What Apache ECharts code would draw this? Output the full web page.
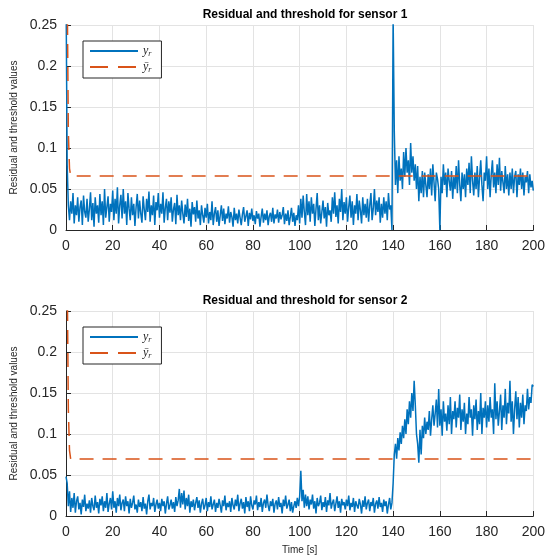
<!DOCTYPE html>
<html>
<head>
<meta charset="utf-8">
<script src="https://cdn.jsdelivr.net/npm/echarts@6/dist/echarts.min.js"></script>
<style>html,body{margin:0;padding:0;background:#fff}#c{width:548px;height:559px}</style>
</head>
<body>
<div id="c"></div>
<script>
// sample spacing of the residual records (seconds)
const dt = 0.5;
const xTicks = [0, 20, 40, 60, 80, 100, 120, 140, 160, 180, 200];
const yTicks = [0, 0.05, 0.1, 0.15, 0.2, 0.25];
const titles = ['Residual and threshold for sensor 1', 'Residual and threshold for sensor 2'];
const seriesNames = ['yr', 'ybar'];

// Sensor 1 residual y_r (t = 0, 0.5, ..., 200 s)
const resid1 = [
0.30,0.08,0.03,0.012,0.035,0.02,0.045,0.008,0.03,0.018,
0.04,0.01,0.028,0.036,0.006,0.042,0.022,0.015,0.038,0.01,
0.025,0.046,0.012,0.033,0.004,0.04,0.02,0.03,0.009,0.044,
0.018,0.035,0.006,0.05,0.015,0.028,0.041,0.01,0.032,0.022,
0.048,0.012,0.038,0.02,0.052,0.008,0.03,0.043,0.014,0.05,
0.02,0.035,0.006,0.045,0.026,0.012,0.04,0.018,0.032,0.005,
0.028,0.044,0.014,0.036,0.02,0.009,0.041,0.025,0.012,0.038,
0.022,0.047,0.01,0.03,0.018,0.042,0.006,0.034,0.024,0.045,
0.015,0.032,0.02,0.046,0.009,0.027,0.038,0.012,0.035,0.021,
0.04,0.01,0.025,0.033,0.007,0.043,0.018,0.03,0.012,0.036,
0.02,0.008,0.031,0.016,0.038,0.011,0.026,0.004,0.034,0.019,
0.028,0.01,0.036,0.014,0.024,0.006,0.03,0.018,0.009,0.027,
0.015,0.032,0.008,0.022,0.012,0.035,0.006,0.02,0.028,0.01,
0.024,0.005,0.018,0.03,0.011,0.026,0.007,0.02,0.014,0.029,
0.009,0.022,0.016,0.004,0.027,0.012,0.02,0.008,0.025,0.015,
0.006,0.019,0.028,0.01,0.017,0.024,0.005,0.021,0.013,0.026,
0.011,0.018,0.007,0.023,0.014,0.02,0.004,0.016,0.026,0.009,
0.02,0.012,0.024,0.006,0.017,0.021,0.01,0.027,0.008,0.019,
0.014,0.025,0.009,0.022,0.013,0.018,0.028,0.007,0.02,0.011,
0.024,0.006,0.016,0.027,0.01,0.021,0.005,0.018,0.012,0.03,
0.008,0.038,0.015,0.042,0.022,0.006,0.044,0.018,0.035,0.01,
0.04,0.02,0.032,0.005,0.026,0.045,0.012,0.03,0.008,0.022,
0.036,0.014,0.028,0.004,0.033,0.018,0.024,0.01,0.04,0.02,
0.046,0.016,0.03,0.008,0.038,0.022,0.05,0.012,0.034,0.02,
0.04,0.01,0.028,0.042,0.015,0.035,0.006,0.03,0.02,0.044,
0.012,0.036,0.024,0.008,0.04,0.018,0.032,0.015,0.038,0.01,
0.03,0.045,0.012,0.026,0.05,0.018,0.036,0.022,0.04,0.009,
0.032,0.015,0.04,0.02,0.035,0.012,0.045,0.025,0.03,0.0,
0.26,0.12,0.055,0.085,0.045,0.09,0.06,0.075,0.05,0.095,
0.065,0.1,0.07,0.085,0.055,0.106,0.07,0.09,0.06,0.08,
0.05,0.078,0.035,0.065,0.045,0.072,0.04,0.07,0.055,0.04,
0.068,0.05,0.075,0.042,0.08,0.058,0.035,0.07,0.062,0.05,
0.0,0.065,0.045,0.08,0.055,0.07,0.04,0.075,0.06,0.048,
0.072,0.038,0.065,0.05,0.078,0.045,0.085,0.055,0.035,0.07,
0.05,0.068,0.04,0.075,0.055,0.082,0.045,0.09,0.06,0.042,
0.07,0.05,0.078,0.04,0.065,0.085,0.055,0.035,0.07,0.06,
0.09,0.05,0.075,0.04,0.068,0.085,0.052,0.07,0.045,0.08,
0.055,0.088,0.048,0.072,0.058,0.045,0.078,0.05,0.068,0.042,
0.07,0.05,0.075,0.045,0.065,0.072,0.04,0.068,0.055,0.075,
0.05,0.07,0.042,0.065,0.058,0.072,0.045,0.068,0.052,0.06,
0.048
];

// Sensor 2 residual y_r (t = 0, 0.5, ..., 200 s)
const resid2 = [
0.048,0.04,0.012,0.03,0.005,0.022,0.01,0.028,0.004,0.018,
0.024,0.008,0.016,0.002,0.02,0.011,0.026,0.006,0.015,0.009,
0.019,0.004,0.022,0.012,0.007,0.025,0.01,0.017,0.003,0.021,
0.013,0.024,0.006,0.018,0.01,0.028,0.005,0.015,0.022,0.008,
0.03,0.01,0.018,0.004,0.022,0.012,0.026,0.007,0.016,0.02,
0.006,0.024,0.012,0.018,0.003,0.021,0.01,0.016,0.025,0.008,
0.014,0.004,0.02,0.011,0.017,0.006,0.023,0.009,0.015,0.002,
0.018,0.026,0.008,0.016,0.012,0.022,0.005,0.014,0.02,0.009,
0.016,0.006,0.021,0.012,0.018,0.003,0.015,0.024,0.008,0.013,
0.02,0.009,0.017,0.005,0.023,0.012,0.019,0.033,0.01,0.028,
0.014,0.031,0.008,0.022,0.012,0.026,0.004,0.018,0.011,0.02,
0.007,0.016,0.023,0.01,0.019,0.004,0.015,0.021,0.008,0.013,
0.022,0.006,0.017,0.011,0.024,0.008,0.014,0.02,0.005,0.016,
0.01,0.021,0.013,0.004,0.019,0.012,0.025,0.007,0.016,0.011,
0.018,0.005,0.022,0.013,0.008,0.02,0.012,0.026,0.006,0.015,
0.021,0.009,0.017,0.003,0.023,0.011,0.018,0.006,0.024,0.013,
0.008,0.019,0.014,0.025,0.007,0.017,0.011,0.022,0.005,0.016,
0.02,0.01,0.026,0.013,0.006,0.018,0.012,0.021,0.004,0.015,
0.019,0.008,0.023,0.011,0.016,0.003,0.02,0.012,0.025,0.009,
0.014,0.02,0.006,0.017,0.004,0.012,0.018,0.01,0.022,0.012,
0.024,0.055,0.018,0.032,0.01,0.026,0.012,0.024,0.008,0.02,
0.014,0.026,0.009,0.018,0.003,0.022,0.012,0.016,0.025,0.007,
0.017,0.011,0.023,0.005,0.019,0.013,0.028,0.009,0.016,0.02,
0.006,0.015,0.024,0.01,0.018,0.004,0.021,0.013,0.017,0.008,
0.02,0.012,0.025,0.007,0.016,0.011,0.022,0.005,0.018,0.013,
0.009,0.021,0.014,0.003,0.019,0.011,0.024,0.008,0.016,0.02,
0.006,0.017,0.012,0.022,0.004,0.015,0.019,0.009,0.023,0.011,
0.016,0.005,0.02,0.012,0.018,0.003,0.014,0.022,0.008,0.016,
0.04,0.075,0.088,0.07,0.095,0.08,0.102,0.088,0.11,0.095,
0.118,0.1,0.13,0.112,0.14,0.12,0.15,0.128,0.165,0.135,
0.1,0.088,0.065,0.105,0.075,0.11,0.095,0.12,0.1,0.115,
0.105,0.128,0.098,0.118,0.135,0.11,0.125,0.142,0.108,0.155,
0.11,0.13,0.098,0.14,0.115,0.125,0.104,0.135,0.112,0.145,
0.1,0.128,0.118,0.14,0.108,0.132,0.12,0.148,0.105,0.13,
0.115,0.138,0.1,0.125,0.112,0.145,0.12,0.13,0.098,0.135,
0.118,0.142,0.105,0.128,0.112,0.15,0.1,0.132,0.12,0.14,
0.108,0.135,0.115,0.145,0.12,0.13,0.1,0.162,0.118,0.14,
0.11,0.128,0.148,0.105,0.135,0.12,0.155,0.112,0.138,0.125,
0.165,0.115,0.14,0.1,0.13,0.152,0.118,0.145,0.108,0.138,
0.12,0.148,0.112,0.135,0.128,0.155,0.13,0.145,0.138,0.16,
0.158
];

// Thresholds ybar_r : breakpoints in time and values
const thrTime1 = [0, 0.5, 1, 1.5, 2, 200];
const thrVal1  = [0.9, 0.3, 0.12, 0.075, 0.066, 0.066];
const thrTime2 = [0, 0.5, 1, 1.5, 2, 200];
const thrVal2  = [0.9, 0.3, 0.13, 0.08, 0.0695, 0.0695];

const toPairs = arr => arr.map((v, i) => [i * dt, v]);
const zip = (t, v) => t.map((x, i) => [x, v[i]]);

const FONT = 'Liberation Sans';
const AX = '#262626';
const BLUE = '#0072BD';
const ORANGE = '#D95319';

function xAxisFor(i, withName) {
  return {
    type: 'value', gridIndex: i, min: xTicks[0], max: xTicks[xTicks.length - 1], interval: 20,
    name: withName ? 'Time [s]' : '', nameLocation: 'middle', nameGap: 29,
    nameTextStyle: { fontFamily: FONT, fontSize: 10, color: AX },
    axisLine: { show: true, onZero: false, lineStyle: { color: AX, width: 1 } },
    axisTick: { show: true, inside: true, length: 5, lineStyle: { color: AX } },
    axisLabel: { fontFamily: FONT, fontSize: 14, color: AX, margin: 9 },
    splitLine: { show: true, lineStyle: { color: '#e3e3e3', width: 1 } }
  };
}
function yAxisFor(i) {
  return {
    type: 'value', gridIndex: i, min: yTicks[0], max: yTicks[yTicks.length - 1], interval: 0.05,
    name: 'Residual and threshold values', nameLocation: 'middle', nameGap: 45,
    nameTextStyle: { fontFamily: FONT, fontSize: 10, color: AX },
    axisLine: { show: true, onZero: false, lineStyle: { color: AX, width: 1 } },
    axisTick: { show: true, inside: true, length: 5, lineStyle: { color: AX } },
    axisLabel: { fontFamily: FONT, fontSize: 14, color: AX, margin: 9,
      formatter: v => String(+v.toFixed(2)) },
    splitLine: { show: true, lineStyle: { color: '#e3e3e3', width: 1 } }
  };
}
function legendFor(top) {
  return {
    data: [
      { name: seriesNames[0] },
      { name: seriesNames[1], lineStyle: { type: [18, 10] } }
    ],
    orient: 'vertical', left: 83, top: top,
    itemWidth: 48, itemHeight: 12, itemGap: 3,
    borderColor: AX, borderWidth: 1, backgroundColor: '#fff', borderRadius: 0,
    padding: [4, 10, 4, 6],
    itemStyle: { opacity: 0, borderWidth: 0 },
    formatter: n => n === 'yr' ? '{i|y}{s|r}' : '{i|ȳ}{s|r}',
    textStyle: {
      rich: {
        i: { fontFamily: 'Liberation Serif', fontStyle: 'italic', fontSize: 12, color: AX },
        s: { fontFamily: 'Liberation Serif', fontStyle: 'italic', fontSize: 8, color: AX, padding: [6, 0, 0, 0] }
      }
    }
  };
}

const residuals = [resid1, resid2];
const thresholds = [zip(thrTime1, thrVal1), zip(thrTime2, thrVal2)];
const series = [];
[0, 1].forEach(i => {
  series.push({
    name: seriesNames[0], type: 'line', xAxisIndex: i, yAxisIndex: i,
    data: toPairs(residuals[i]), symbol: 'none', showSymbol: false, clip: true,
    lineStyle: { color: BLUE, width: 1.5 }, itemStyle: { color: BLUE }, z: 2
  });
  series.push({
    name: seriesNames[1], type: 'line', xAxisIndex: i, yAxisIndex: i,
    data: thresholds[i], symbol: 'none', showSymbol: false, clip: true,
    lineStyle: { color: ORANGE, width: 1.5, type: [14, 9] }, itemStyle: { color: ORANGE }, z: 3
  });
});

const chart = echarts.init(document.getElementById('c'), null, { renderer: 'canvas' });
chart.setOption({
  animation: false,
  backgroundColor: '#fff',
  title: [
    { text: titles[0], left: 300, top: 4, textAlign: 'center',
      textStyle: { fontFamily: FONT, fontSize: 12, fontWeight: 'bold', color: '#000' } },
    { text: titles[1], left: 300, top: 290, textAlign: 'center',
      textStyle: { fontFamily: FONT, fontSize: 12, fontWeight: 'bold', color: '#000' } }
  ],
  grid: [
    { left: 66, right: 14, top: 25, height: 205 },
    { left: 66, right: 14, top: 311, height: 205 }
  ],
  legend: [legendFor(41), legendFor(327)],
  xAxis: [xAxisFor(0, false), xAxisFor(1, true)],
  yAxis: [yAxisFor(0), yAxisFor(1)],
  series: series
});
</script>
</body>
</html>
